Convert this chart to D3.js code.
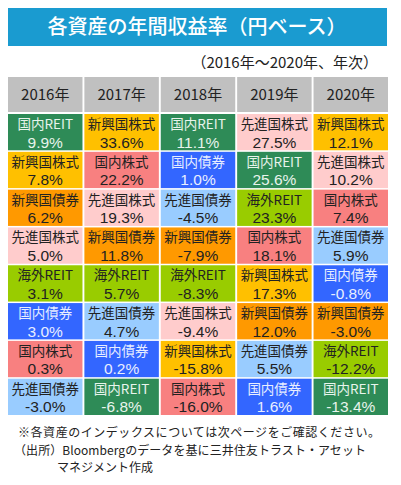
<!DOCTYPE html><html><head><meta charset="utf-8">
<script src="https://cdn.jsdelivr.net/npm/d3@7"></script>
<style>body{margin:0;background:#fff}text{font-family:"Noto Sans CJK JP","Noto Sans",sans-serif}.v{font-family:"Liberation Sans",Arial,sans-serif}</style></head><body>
<svg id="c" width="401" height="485"></svg>
<script>
const years=["2016年","2017年","2018年","2019年","2020年"];
const assets=[
["国内REIT","新興国株式","新興国債券","先進国株式","海外REIT","国内債券","国内株式","先進国債券"],
["新興国株式","国内株式","先進国株式","新興国債券","海外REIT","先進国債券","国内債券","国内REIT"],
["国内REIT","国内債券","先進国債券","新興国債券","海外REIT","先進国株式","新興国株式","国内株式"],
["先進国株式","国内REIT","海外REIT","国内株式","新興国株式","新興国債券","先進国債券","国内債券"],
["新興国株式","先進国株式","国内株式","先進国債券","国内債券","新興国債券","海外REIT","国内REIT"]];
const values=[
[9.9,7.8,6.2,5.0,3.1,3.0,0.3,-3.0],
[33.6,22.2,19.3,11.8,5.7,4.7,0.2,-6.8],
[11.1,1.0,-4.5,-7.9,-8.3,-9.4,-15.8,-16.0],
[27.5,25.6,23.3,18.1,17.3,12.0,5.5,1.6],
[12.1,10.2,7.4,5.9,-0.8,-3.0,-12.2,-13.4]];
const colors={"国内REIT":["#2e8b57","#e8f4ec"],"新興国株式":["#ffc000","#222"],"国内株式":["#f88080","#222"],"国内債券":["#3366ff","#e8eeff"],"先進国株式":["#ffcccc","#222"],"新興国債券":["#ff9900","#222"],"先進国債券":["#99ccff","#222"],"海外REIT":["#99cc00","#222"]};
const svg=d3.select("#c");
svg.append("rect").attr("x",8).attr("y",8).attr("width",379).attr("height",38).attr("fill","#1a9bd0");
svg.append("text").attr("x",197).attr("y",34).attr("text-anchor","middle").attr("fill","#fff").attr("font-size",20).attr("font-weight","500").text("各資産の年間収益率（円ベース）");
svg.append("text").attr("x",378).attr("y",68).attr("text-anchor","end").attr("fill","#222").attr("font-size",15).text("（2016年～2020年、年次）");
const x=d3.scaleBand().domain(d3.range(5)).range([8,388]).paddingInner(0.025);
years.forEach((yr,i)=>{
 svg.append("rect").attr("x",x(i)).attr("y",77).attr("width",x.bandwidth()).attr("height",35).attr("fill","#c0c0c0");
 svg.append("text").attr("x",x(i)+x.bandwidth()/2).attr("y",100).attr("text-anchor","middle").attr("font-size",15).attr("fill","#222").text(yr);
});
const ry=d3.scaleBand().domain(d3.range(8)).range([114,415]).paddingInner(0.04);
assets.forEach((col,i)=>col.forEach((a,j)=>{
 const [bg,fg]=colors[a];
 svg.append("rect").attr("x",x(i)).attr("y",ry(j)).attr("width",x.bandwidth()).attr("height",ry.bandwidth()).attr("fill",bg);
 const cx=x(i)+x.bandwidth()/2;
 svg.append("text").attr("x",cx).attr("y",ry(j)+15).attr("text-anchor","middle").attr("fill",fg).attr("font-size",13.5).text(a);
 svg.append("text").attr("class","v").attr("x",cx).attr("y",ry(j)+33.5).attr("text-anchor","middle").attr("fill",fg).attr("font-size",15.5).text(values[i][j].toFixed(1)+"%");
}));
const notes=[["※各資産のインデックスについては次ページをご確認ください。",18,437],["（出所）Bloombergのデータを基に三井住友トラスト・アセット",14,455],["マネジメント作成",57,472]];
notes.forEach(n=>svg.append("text").attr("font-size",12).attr("fill","#222").attr("x",n[1]).attr("y",n[2]).attr("textLength",n[0].length>20?(n[1]==18?362:352):null).text(n[0]));
</script></body></html>
